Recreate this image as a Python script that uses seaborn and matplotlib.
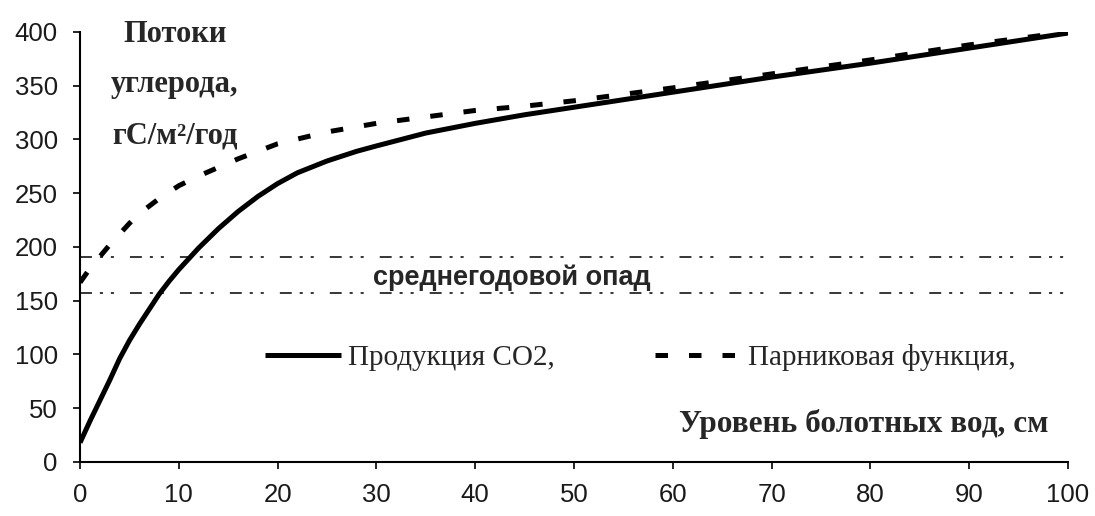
import numpy as np
import pandas as pd
import matplotlib
matplotlib.use("Agg")
import matplotlib.pyplot as plt
import seaborn as sns
from matplotlib.lines import Line2D

# Water table depth, cm
depth_co2 = [0, 1, 2, 3, 4, 5, 6, 7, 8, 9, 10, 12, 14, 16, 18, 20, 22, 25, 28,
             30, 35, 40, 45, 50, 60, 70, 80, 90, 100]
# CO2 production, gC/m2/yr
co2_production = [18, 38, 57, 76, 96, 113, 128, 142, 156, 168, 179, 199, 217,
                  233, 247, 259, 269, 280, 289, 294, 306, 315, 323, 330, 344,
                  358, 371, 385, 399]

depth_gh = [0, 1, 2, 3, 4, 5, 6, 8, 10, 12, 14, 16, 18, 20, 25, 30, 35, 40, 45,
            50, 60, 70, 80, 90, 100]
# Greenhouse function, gC/m2/yr
greenhouse = [167, 180, 191, 202, 212, 222, 231, 245, 257, 266, 274, 282, 289,
              296, 307, 315, 321, 327, 331, 336, 348, 361, 374, 388, 400]

# Range of mean annual litterfall
litterfall_bounds = [157, 191]

x_ticks = list(range(0, 101, 10))
y_ticks = list(range(0, 401, 50))

label_co2 = "Продукция СО2,"
label_gh = "Парниковая функция,"

sns.set_style("ticks")
plt.rcParams["font.family"] = ["Liberation Sans", "DejaVu Sans"]

fig = plt.figure(figsize=(10.95, 5.16), dpi=100)
ax = fig.add_axes([0.0731, 0.1047, 0.9022, 0.8333])

df_co2 = pd.DataFrame({"depth": depth_co2, "flux": co2_production})
df_gh = pd.DataFrame({"depth": depth_gh, "flux": greenhouse})

gh_dashes = (2.5, 4.2)

sns.lineplot(data=df_co2, x="depth", y="flux", ax=ax, color="black",
             linewidth=3.6, solid_capstyle="butt", label=None)
sns.lineplot(data=df_gh, x="depth", y="flux", ax=ax, color="black",
             linewidth=3.6, label=None)
gh_line = ax.get_lines()[-1]
gh_line.set_dashes(gh_dashes)
gh_line.set_dash_capstyle("butt")

for level in litterfall_bounds:
    ax.axhline(level, color="black", linewidth=1.1,
               dashes=(7.8, 5.2, 2, 5.2, 2, 10.5))

ax.set_xlim(0, 100)
ax.set_ylim(0, 400)
ax.set_xticks(x_ticks)
ax.set_yticks(y_ticks)
ax.set_xlabel("")
ax.set_ylabel("")
sns.despine(ax=ax)
for side in ("left", "bottom"):
    ax.spines[side].set_linewidth(1.5)
    ax.spines[side].set_color("black")
ax.tick_params(axis="both", direction="out", length=5, width=1.2,
               color="black", labelsize=18.5, labelcolor="#1a1a1a")
ax.tick_params(axis="y", pad=11)
ax.tick_params(axis="x", pad=10)

serif = ["Liberation Serif", "DejaVu Serif"]

# Axis title in the upper-left corner
for text, yv in zip(["Потоки", "углерода,", "гС/м²/год"], [398, 351, 303]):
    ax.text(9.6, yv, text, ha="center", va="center", fontsize=22,
            fontweight="bold", family=serif, clip_on=False)

ax.text(43.7, 171, "среднегодовой опад", ha="center", va="center",
        fontsize=19.5, fontweight="bold")

ax.text(98, 35, "Уровень болотных вод, см", ha="right", va="center",
        fontsize=22.5, fontweight="bold", family=serif)

h_co2 = Line2D([], [], color="black", linewidth=3.6, solid_capstyle="butt")
h_gh = Line2D([], [], color="black", linewidth=3.6, dashes=gh_dashes,
              dash_capstyle="butt")

leg1 = ax.legend([h_co2], [label_co2], loc="center left",
                 bbox_to_anchor=(0.187, 0.242), frameon=False, borderpad=0,
                 borderaxespad=0, handlelength=2.6, handletextpad=0.25,
                 prop={"family": serif, "size": 21})
ax.add_artist(leg1)
ax.legend([h_gh], [label_gh], loc="center left",
          bbox_to_anchor=(0.582, 0.242), frameon=False, borderpad=0,
          borderaxespad=0, handlelength=3.0, handletextpad=0.2,
          prop={"family": serif, "size": 21})

fig.savefig("out.png", dpi=100, facecolor="white")
